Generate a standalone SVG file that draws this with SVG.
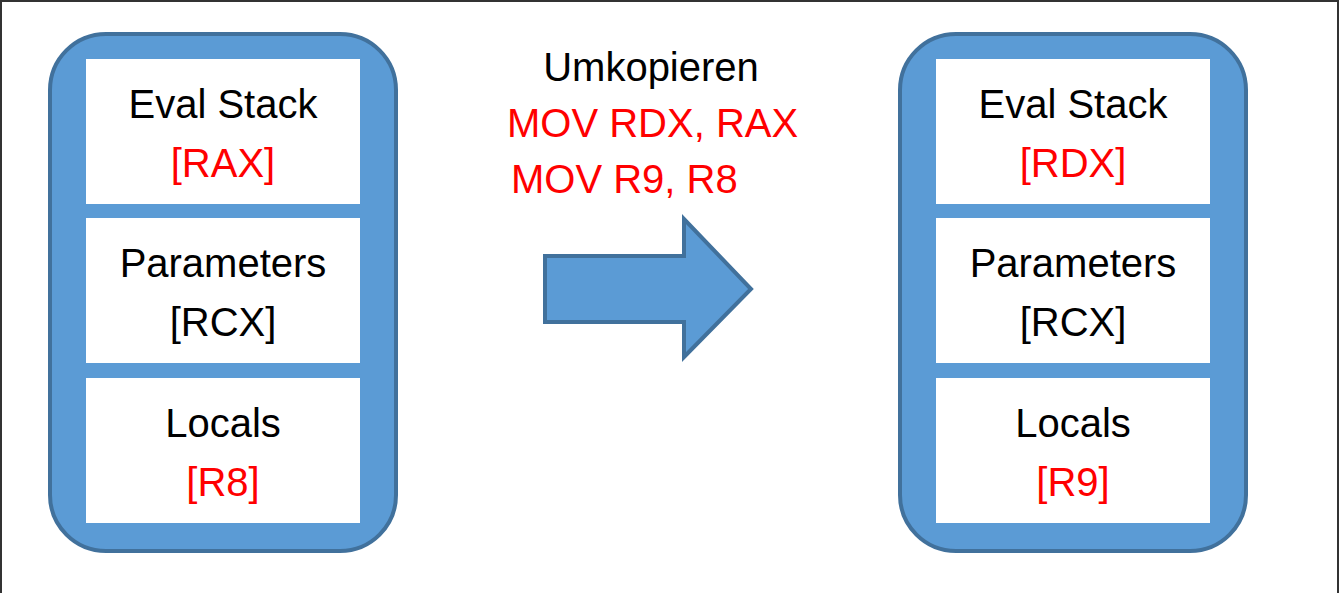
<svg xmlns="http://www.w3.org/2000/svg" width="1339" height="593" viewBox="0 0 1339 593">
<style>
.panel{fill:#5B9BD5;stroke:#41719C;stroke-width:4}
.cell{fill:#FFFFFF}
text{font-family:"Liberation Sans",Arial,sans-serif;font-size:40px}
.c{text-anchor:middle}
.k{fill:#000000}
.r{fill:#FF0000}
</style>
<rect width="1339" height="593" fill="#FFFFFF"/>
<path d="M1 593 V1 H1338 V593" fill="none" stroke="#333333" stroke-width="2"/>
<g id="left-stack">
<rect class="panel" x="50" y="34" width="346" height="517" rx="56" ry="56"/>
<g id="left-eval"><rect class="cell" x="86" y="59" width="274" height="145"/><text class="c k" x="223" y="118">Eval Stack</text><text class="c r" x="223" y="177">[RAX]</text></g>
<g id="left-params"><rect class="cell" x="86" y="218" width="274" height="145"/><text class="c k" x="223" y="277">Parameters</text><text class="c k" x="223" y="336">[RCX]</text></g>
<g id="left-locals"><rect class="cell" x="86" y="378" width="274" height="145"/><text class="c k" x="223" y="437">Locals</text><text class="c r" x="223" y="496">[R8]</text></g>
</g>
<g id="right-stack">
<rect class="panel" x="900" y="34" width="346" height="517" rx="56" ry="56"/>
<g id="right-eval"><rect class="cell" x="936" y="59" width="274" height="145"/><text class="c k" x="1073" y="118">Eval Stack</text><text class="c r" x="1073" y="177">[RDX]</text></g>
<g id="right-params"><rect class="cell" x="936" y="218" width="274" height="145"/><text class="c k" x="1073" y="277">Parameters</text><text class="c k" x="1073" y="336">[RCX]</text></g>
<g id="right-locals"><rect class="cell" x="936" y="378" width="274" height="145"/><text class="c k" x="1073" y="437">Locals</text><text class="c r" x="1073" y="496">[R9]</text></g>
</g>
<g id="connectors">
<path class="panel" d="M545 256 H684 V219 L751 289 L684 357 V322 H545 Z"/>
</g>
<g id="label">
<text class="c k" x="651" y="81">Umkopieren</text>
<text class="r" x="507" y="137">MOV RDX, RAX</text>
<text class="r" x="511" y="193">MOV R9, R8</text>
</g>
</svg>
